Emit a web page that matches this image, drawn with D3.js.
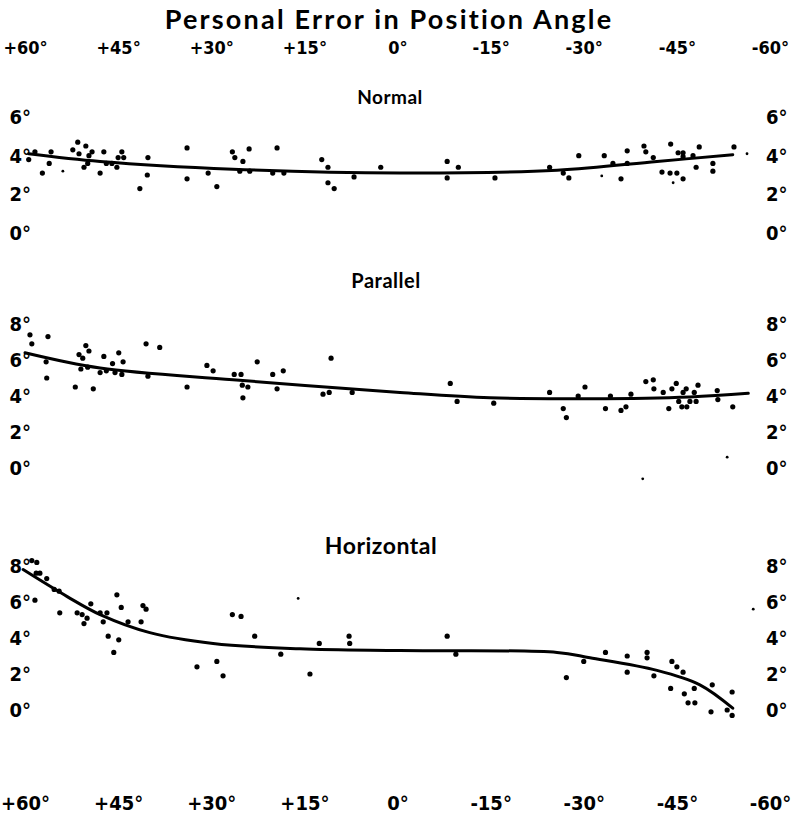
<!DOCTYPE html>
<html>
<head>
<meta charset="utf-8">
<script src="https://cdn.jsdelivr.net/npm/d3@7"></script>
<style>
  body { margin: 0; background: #fff; }
  svg { display: block; }
  .tick text { font-family: "DejaVu Sans Condensed", "Liberation Sans Narrow", sans-serif; font-weight: bold; fill: #000; }
</style>
</head>
<body>
<script>
// angle ticks (degrees of position angle)
const xTicks = [60, 45, 30, 15, 0, -15, -30, -45, -60];
const normalTicks = [0, 2, 4, 6];
const otherTicks = [0, 2, 4, 6, 8];

// Normal: [angle, error]
const normalDots = [
  [59.4,3.8],[58.4,4.2],[57.2,3.1],[55.8,4.2],[56.1,3.6],[52.3,4.3],[51.5,4.7],[51.3,4.1],
  [50.5,3.4],[50.2,4.5],[49.7,4.0],[49.9,3.6],[49.2,4.2],[47.9,3.1],[47.3,4.2],[46.9,3.6],
  [46.0,3.6],[45.2,3.4],[45.0,3.9],[44.4,4.2],[44.1,3.9],[41.5,2.3],[40.3,3.0],[40.2,3.9],
  [33.9,4.4],[33.9,2.8],[30.5,3.1],[29.1,2.4],[26.6,4.2],[26.2,3.9],[24.9,3.7],[25.4,3.2],
  [23.8,3.2],[23.9,4.35],[20.1,3.1],[19.4,4.4],[18.3,3.1],[12.2,3.8],[11.2,3.4],[11.2,2.6],
  [10.2,2.3],[7.0,2.9],[2.7,3.4],[-8.0,3.7],[-8.0,2.85],[-9.8,3.4],[-15.7,2.85],[-24.5,3.4],
  [-26.7,3.1],[-27.6,2.85],[-29.2,4.0],[-33.3,4.0],[-34.7,3.6],[-36.0,2.8],[-37.0,4.25],
  [-37.0,3.6],[-39.7,4.5],[-40.0,4.2],[-41.2,3.9],[-42.6,3.15],[-44.0,4.6],[-43.9,3.1],
  [-45.0,3.1],[-45.2,4.15],[-46.0,4.15],[-46.0,3.95],[-46.0,2.8],[-47.6,4.0],[-48.6,4.45],
  [-48.1,3.4],[-50.8,3.6],[-50.8,3.2],[-54.2,4.45]
];
const normalSpecks = [[53.9,3.2],[-32.9,2.95],[-56.3,4.1],[-44.4,2.6]];
const normalCurve = [[59.4,4.1],[47.9,3.7],[26.5,3.3],[-0.4,3.1],[-25.7,3.25],[-41.8,3.7],[-54.0,4.05]];

// Parallel
const parallelDots = [
  [59.2,7.4],[58.9,6.9],[56.3,7.3],[56.6,5.9],[56.5,5.0],[51.9,4.5],[51.3,6.3],[50.7,6.1],
  [51.0,5.5],[50.2,6.8],[49.7,6.5],[49.9,5.6],[49.0,4.4],[47.9,5.3],[47.3,6.2],[46.9,5.4],
  [45.9,5.8],[45.5,5.3],[44.9,6.4],[44.2,5.9],[44.4,5.2],[40.5,6.9],[40.2,5.1],[38.3,6.7],
  [33.9,4.5],[30.7,5.7],[29.7,5.4],[26.3,5.2],[25.2,5.2],[25.0,4.6],[24.9,3.9],[24.1,4.5],
  [22.6,5.9],[20.1,5.2],[19.4,4.4],[18.4,5.4],[12.0,4.1],[11.0,4.2],[10.7,6.1],[7.3,4.2],
  [-8.5,4.7],[-9.6,3.7],[-15.5,3.6],[-24.5,4.2],[-26.7,3.3],[-27.2,2.8],[-29.1,4.0],
  [-30.2,4.5],[-33.5,3.3],[-34.3,4.0],[-36.0,3.2],[-36.8,3.4],[-37.6,4.1],[-40.0,4.8],
  [-41.2,4.9],[-41.3,4.4],[-42.8,4.2],[-43.7,3.3],[-44.2,4.4],[-44.9,4.7],[-45.3,3.7],
  [-45.8,3.4],[-46.0,4.2],[-46.5,4.4],[-46.6,3.4],[-47.1,3.7],[-47.8,4.2],[-48.1,3.7],
  [-48.4,4.6],[-51.5,4.3],[-51.6,3.8],[-54.0,3.4]
];
const parallelSpecks = [[-39.5,-0.6],[-53.1,0.6]];
const parallelCurve = [[60,6.4],[47.9,5.55],[26.5,4.9],[-0.4,4.2],[-14.9,3.9],[-31.0,3.85],[-47.1,3.95],[-56.5,4.15]];

// Horizontal
const horizontalDots = [
  [58.9,8.3],[58.1,8.2],[58.2,7.6],[57.6,7.6],[56.5,7.3],[55.3,6.7],[54.5,6.6],[58.4,6.1],
  [54.4,5.4],[51.6,5.4],[50.8,5.3],[50.0,5.1],[50.5,4.8],[49.4,5.9],[47.9,5.4],[46.8,5.4],
  [47.4,4.9],[46.6,4.1],[45.7,3.2],[45.2,6.4],[44.5,5.7],[44.9,3.9],[43.4,4.9],[41.3,4.9],
  [41.0,5.8],[40.5,5.6],[32.3,2.4],[29.1,2.7],[28.1,1.9],[26.6,5.3],[25.2,5.2],[23.0,4.1],
  [18.8,3.1],[14.1,2.0],[12.6,3.7],[7.8,4.1],[7.7,3.7],[-8.0,4.1],[-9.4,3.1],[-27.2,1.8],
  [-30.0,2.7],[-33.5,3.2],[-37.0,3.0],[-37.0,2.1],[-40.2,3.2],[-40.2,2.9],[-41.3,1.9],
  [-44.2,2.7],[-45.0,2.4],[-46.0,2.1],[-44.0,1.2],[-46.2,0.9],[-47.8,1.2],[-46.8,0.4],
  [-47.9,0.4],[-50.7,1.4],[-50.5,-0.1],[-53.9,1.0],[-53.1,0.0],[-53.9,-0.3]
];
const horizontalSpecks = [[16.0,6.2],[-57.3,5.6]];
const horizontalCurve = [[60.3,7.8],[53.2,6.3],[47.9,5.3],[39.9,4.3],[29.7,3.7],[15.7,3.4],[-0.4,3.3],
  [-25.7,3.2],[-31.0,2.9],[-41.8,2.2],[-48.7,1.4],[-54.0,0.1]];

const width = 791, height = 816;
const svg = d3.select("body").append("svg")
    .attr("width", width)
    .attr("height", height);

const x = d3.scaleLinear().domain([60, -60]).range([25, 770]);

const fmtAngle = d => (d > 0 ? "+" + d : d) + "°";
const fmtDeg = d => d + "°";

// title
svg.append("text")
    .attr("x", 389).attr("y", 29)
    .attr("text-anchor", "middle")
    .style("font-family", "Lato, 'DejaVu Sans', sans-serif")
    .style("font-weight", "bold")
    .style("font-size", "27px")
    .style("letter-spacing", "2.2px")
    .text("Personal Error in Position Angle");

// top and bottom angle axes
const topAxis = svg.append("g")
    .attr("transform", "translate(0,54)")
    .call(d3.axisTop(x).tickValues(xTicks).tickFormat(fmtAngle).tickSize(0).tickPadding(0));
const bottomAxis = svg.append("g")
    .attr("transform", "translate(0,810)")
    .call(d3.axisTop(x).tickValues(xTicks).tickFormat(fmtAngle).tickSize(0).tickPadding(0));
topAxis.selectAll("text").style("font-size", "18px");
bottomAxis.selectAll("text").style("font-size", "20px");
svg.selectAll(".domain").remove();

const panels = [
  { name: "Normal", dots: normalDots, specks: normalSpecks, curve: normalCurve, ticks: normalTicks,
    y0: 233, y1: 117, vmax: 6, titleX: 390, titleY: 104, size: 19 },
  { name: "Parallel", dots: parallelDots, specks: parallelSpecks, curve: parallelCurve, ticks: otherTicks,
    y0: 468, y1: 324, vmax: 8, titleX: 386, titleY: 288, size: 20 },
  { name: "Horizontal", dots: horizontalDots, specks: horizontalSpecks, curve: horizontalCurve, ticks: otherTicks,
    y0: 710, y1: 566, vmax: 8, titleX: 381, titleY: 554, size: 23 }
];

panels.forEach(p => {
  const y = d3.scaleLinear().domain([0, p.vmax]).range([p.y0, p.y1]);
  const g = svg.append("g");

  g.append("text")
      .attr("x", p.titleX).attr("y", p.titleY)
      .attr("text-anchor", "middle")
      .style("font-family", "Lato, 'DejaVu Sans', sans-serif")
      .style("font-weight", "bold")
      .style("font-size", p.size + "px")
      .style("letter-spacing", "0.5px")
      .text(p.name);

  const left = g.append("g")
      .attr("transform", "translate(31,0)")
      .call(d3.axisLeft(y).tickValues(p.ticks).tickFormat(fmtDeg).tickSize(0).tickPadding(0));
  const right = g.append("g")
      .attr("transform", "translate(766,0)")
      .call(d3.axisRight(y).tickValues(p.ticks).tickFormat(fmtDeg).tickSize(0).tickPadding(0));
  left.selectAll("text").style("font-size", "20px");
  right.selectAll("text").style("font-size", "20px");
  g.selectAll(".domain").remove();

  const line = d3.line()
      .x(d => x(d[0]))
      .y(d => y(d[1]))
      .curve(d3.curveCatmullRom.alpha(0.5));

  g.append("path")
      .datum(p.curve)
      .attr("d", line)
      .attr("fill", "none")
      .attr("stroke", "#000")
      .attr("stroke-width", 3)
      .attr("stroke-linecap", "round");

  g.selectAll(".dot")
    .data(p.dots)
    .enter().append("circle")
      .attr("class", "dot")
      .attr("cx", d => x(d[0]))
      .attr("cy", d => y(d[1]))
      .attr("r", 2.6)
      .attr("fill", "#000");

  g.selectAll(".speck")
    .data(p.specks)
    .enter().append("circle")
      .attr("class", "speck")
      .attr("cx", d => x(d[0]))
      .attr("cy", d => y(d[1]))
      .attr("r", 1.4)
      .attr("fill", "#000");
});
</script>
</body>
</html>
